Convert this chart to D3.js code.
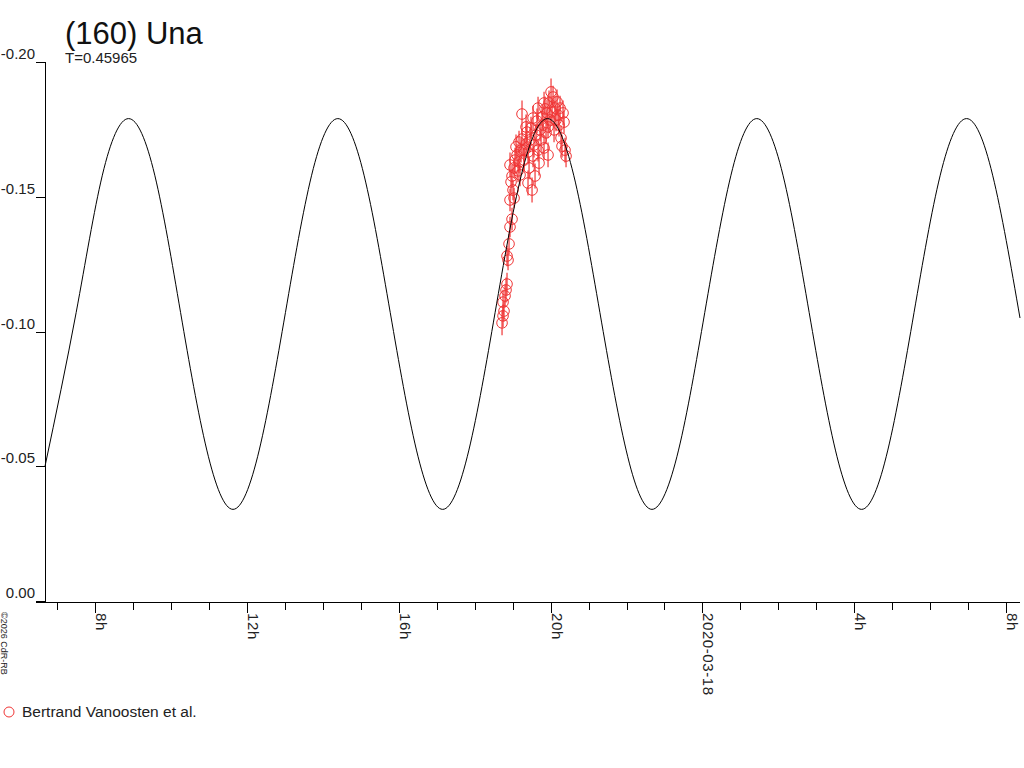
<!DOCTYPE html>
<html>
<head>
<meta charset="utf-8">
<script src="https://cdn.jsdelivr.net/npm/d3@7"></script>
<style>
  body { margin: 0; background: #fff; }
  svg { font-family: "Liberation Sans", Arial, sans-serif; }
</style>
</head>
<body>
<div id="chart"></div>
<script>
// fitted light curve (hours after 2020-03-17 00:00 UT)
var fitHours = [6.69, 7.51, 8.20, 8.89, 9.58, 10.26, 10.95, 11.64, 12.33, 13.02, 13.71, 14.40,
  15.09, 15.78, 16.47, 17.16, 17.85, 18.54, 19.23, 19.92, 20.61, 21.30, 21.99, 22.67,
  23.37, 24.06, 24.75, 25.43, 26.12, 26.81, 27.50, 28.19, 28.88, 29.57, 30.26, 30.95, 31.64, 32.36];
var fitMag = [-0.050, -0.107, -0.158, -0.179, -0.158, -0.107, -0.056, -0.034, -0.056, -0.107, -0.158, -0.179,
  -0.158, -0.107, -0.056, -0.034, -0.056, -0.107, -0.158, -0.179, -0.158, -0.107, -0.056, -0.034,
  -0.056, -0.107, -0.158, -0.179, -0.158, -0.107, -0.056, -0.034, -0.056, -0.107, -0.158, -0.179, -0.158, -0.105];

// observations (Bertrand Vanoosten et al.)
var obsHours = [18.723, 18.749, 18.775, 18.749, 18.802, 18.828, 18.854, 18.881, 18.854, 18.907,
  18.933, 18.986, 18.933, 19.039, 18.960, 19.012, 18.933, 18.986, 19.039, 19.065,
  19.118, 19.170, 19.091, 19.170, 19.223, 19.249, 19.249, 19.197, 19.302, 19.355,
  19.355, 19.407, 19.407, 19.434, 19.460, 19.486, 19.513, 19.539, 19.539, 19.565,
  19.592, 19.618, 19.644, 19.671, 19.697, 19.723, 19.750, 19.776, 19.802, 19.829,
  19.855, 19.881, 19.908, 19.934, 19.934, 19.960, 19.987, 20.013, 20.039, 20.066,
  20.092, 20.118, 20.144, 20.171, 20.197, 20.223, 20.250, 20.276, 20.302, 20.329,
  20.355, 20.381, 20.408, 19.829, 19.671, 19.381, 19.144, 19.302];
var obsMag = [-0.1032, -0.1058, -0.1076, -0.1109, -0.1132, -0.1154, -0.1176, -0.1265, -0.1280, -0.1325,
  -0.1388, -0.1417, -0.1488, -0.1495, -0.1555, -0.1525, -0.1618, -0.1577, -0.1607, -0.1636,
  -0.1655, -0.1629, -0.1685, -0.1703, -0.1673, -0.1714, -0.1807, -0.1581, -0.1636, -0.1696,
  -0.1759, -0.1666, -0.1551, -0.1607, -0.1711, -0.1755, -0.1525, -0.1792, -0.1651, -0.1692,
  -0.1577, -0.1729, -0.1781, -0.1673, -0.1625, -0.1748, -0.1711, -0.1796, -0.1766, -0.1681,
  -0.1826, -0.1737, -0.1811, -0.1655, -0.1759, -0.1848, -0.1785, -0.1889, -0.1815, -0.1870,
  -0.1748, -0.1829, -0.1785, -0.1852, -0.1803, -0.1766, -0.1829, -0.1718, -0.1688, -0.1811,
  -0.1777, -0.1673, -0.1651, -0.1848, -0.1829, -0.1740, -0.1596, -0.1673];
var obsErr = [0.0046, 0.0042, 0.0038, 0.0046, 0.0042, 0.0046, 0.0042, 0.0038, 0.0038, 0.0038,
  0.0038, 0.0042, 0.0042, 0.0038, 0.0042, 0.0038, 0.0046, 0.0042, 0.0038, 0.0046,
  0.0042, 0.0042, 0.0046, 0.0042, 0.0046, 0.0042, 0.0050, 0.0042, 0.0042, 0.0046,
  0.0046, 0.0042, 0.0046, 0.0042, 0.0046, 0.0042, 0.0046, 0.0046, 0.0042, 0.0046,
  0.0046, 0.0042, 0.0046, 0.0042, 0.0046, 0.0042, 0.0046, 0.0042, 0.0046, 0.0046,
  0.0046, 0.0042, 0.0050, 0.0046, 0.0042, 0.0046, 0.0046, 0.0050, 0.0046, 0.0042,
  0.0046, 0.0046, 0.0042, 0.0046, 0.0042, 0.0042, 0.0046, 0.0046, 0.0042, 0.0046,
  0.0042, 0.0046, 0.0042, 0.0042, 0.0042, 0.0042, 0.0042, 0.0042];

var yTicks = [0, -0.05, -0.10, -0.15, -0.20];
var xStartHour = 6.69, xEndHour = 32.36;

var baseDate = Date.UTC(2020, 2, 17);
function hourToDate(h) { return new Date(baseDate + h * 3600000); }

var width = 1024, height = 768;
var plotLeft = 45, plotRight = 1020, plotTop = 62, plotBottom = 601;
var red = '#f03535';

var svg = d3.select('#chart').append('svg')
    .attr('width', width)
    .attr('height', height);

var x = d3.scaleUtc()
    .domain([hourToDate(xStartHour), hourToDate(xEndHour)])
    .range([plotLeft, plotRight]);

var y = d3.scaleLinear()
    .domain([0, -0.2])
    .range([plotBottom, plotTop]);

// title
svg.append('text')
    .attr('x', 65).attr('y', 44)
    .attr('font-size', 31)
    .attr('fill', '#111')
    .text('(160) Una');
svg.append('text')
    .attr('x', 65).attr('y', 63)
    .attr('font-size', 15)
    .attr('fill', '#222')
    .text('T=0.45965');

// y axis
var yAxis = svg.append('g').attr('shape-rendering', 'crispEdges');
yAxis.append('line')
    .attr('x1', plotLeft + 0.5).attr('x2', plotLeft + 0.5)
    .attr('y1', y(-0.2)).attr('y2', plotBottom + 1)
    .attr('stroke', '#000');
yAxis.selectAll('.yt')
    .data(yTicks)
    .enter()
    .append('line')
    .attr('x1', 36).attr('x2', plotLeft)
    .attr('y1', function (d) { return Math.round(y(d)) + 0.5; })
    .attr('y2', function (d) { return Math.round(y(d)) + 0.5; })
    .attr('stroke', '#000');
yAxis.selectAll('.yl')
    .data(yTicks)
    .enter()
    .append('text')
    .attr('x', 35)
    .attr('y', function (d) { return y(d) - 3; })
    .attr('text-anchor', 'end')
    .attr('font-size', 15)
    .attr('fill', '#222')
    .text(function (d) { return d.toFixed(2); });

// x axis
var xAxis = svg.append('g').attr('shape-rendering', 'crispEdges');
xAxis.append('line')
    .attr('x1', 36).attr('x2', plotRight)
    .attr('y1', plotBottom + 1.5).attr('y2', plotBottom + 1.5)
    .attr('stroke', '#000');

var hourTicks = x.ticks(d3.utcHour.every(1));
xAxis.selectAll('.xt')
    .data(hourTicks)
    .enter()
    .append('line')
    .attr('x1', function (d) { return Math.round(x(d)) + 0.5; })
    .attr('x2', function (d) { return Math.round(x(d)) + 0.5; })
    .attr('y1', plotBottom + 2)
    .attr('y2', function (d) { return d.getUTCHours() % 4 === 0 ? plotBottom + 12 : plotBottom + 9; })
    .attr('stroke', '#000');

var fmtDay = d3.utcFormat('%Y-%m-%d');
xAxis.selectAll('.xl')
    .data(hourTicks.filter(function (d) { return d.getUTCHours() % 4 === 0; }))
    .enter()
    .append('text')
    .attr('transform', function (d) { return 'translate(' + (Math.round(x(d)) + 1) + ',' + (plotBottom + 12) + ') rotate(90)'; })
    .attr('font-size', 15)
    .attr('letter-spacing', 0.6)
    .attr('fill', '#222')
    .text(function (d) {
        var h = d.getUTCHours();
        return h === 0 ? fmtDay(d) : h + 'h';
    });

// copyright
svg.append('text')
    .attr('transform', 'translate(1,612) rotate(90)')
    .attr('font-size', 9)
    .attr('fill', '#222')
    .text('\u00a92026 CdR-RB');

// observations
var obs = obsHours.map(function (h, i) {
    return { t: hourToDate(h), m: obsMag[i], e: obsErr[i] };
});

svg.append('g').selectAll('line')
    .data(obs)
    .enter()
    .append('line')
    .attr('x1', function (d) { return x(d.t); })
    .attr('x2', function (d) { return x(d.t); })
    .attr('y1', function (d) { return y(d.m - d.e); })
    .attr('y2', function (d) { return y(d.m + d.e); })
    .attr('stroke', red)
    .attr('stroke-width', 1.2);

svg.append('g').selectAll('circle')
    .data(obs)
    .enter()
    .append('circle')
    .attr('cx', function (d) { return x(d.t); })
    .attr('cy', function (d) { return y(d.m); })
    .attr('r', 5.3)
    .attr('fill', 'none')
    .attr('stroke', red)
    .attr('stroke-width', 1);

// fitted curve
var fit = fitHours.map(function (h, i) { return [hourToDate(h), fitMag[i]]; });
var line = d3.line()
    .x(function (d) { return x(d[0]); })
    .y(function (d) { return y(d[1]); })
    .curve(d3.curveNatural);

svg.append('path')
    .datum(fit)
    .attr('d', line)
    .attr('fill', 'none')
    .attr('stroke', '#000')
    .attr('stroke-width', 1);

// legend
svg.append('circle')
    .attr('cx', 9).attr('cy', 712)
    .attr('r', 5)
    .attr('fill', 'none')
    .attr('stroke', red);
svg.append('text')
    .attr('x', 22).attr('y', 717)
    .attr('font-size', 15.5)
    .attr('fill', '#222')
    .text('Bertrand Vanoosten et al.');
</script>
</body>
</html>
